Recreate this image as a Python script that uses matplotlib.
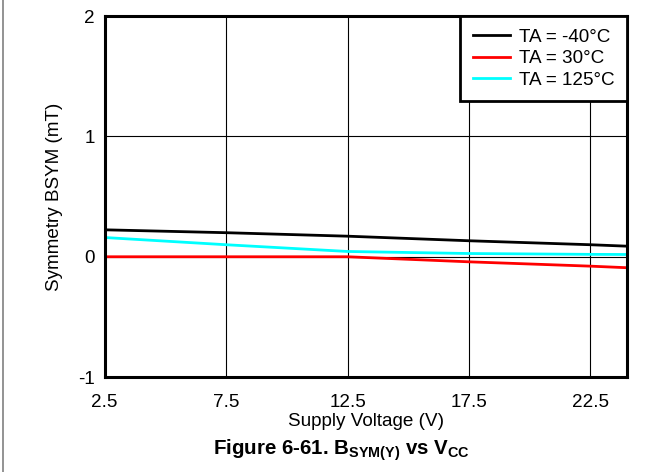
import matplotlib
matplotlib.use("Agg")
import matplotlib.pyplot as plt
from matplotlib.lines import Line2D

plt.rcParams['font.family'] = ['Liberation Sans', 'DejaVu Sans']
plt.rcParams['mathtext.fontset'] = 'custom'
plt.rcParams['mathtext.rm'] = 'Liberation Sans'
plt.rcParams['mathtext.bf'] = 'Liberation Sans:bold'
plt.rcParams['mathtext.it'] = 'Liberation Sans:italic'

voltage = [2.5, 7.5, 12.5, 17.5, 22.5, 24.0]
bsym_m40 = [0.224, 0.200, 0.171, 0.133, 0.100, 0.088]
bsym_30 = [0.000, 0.000, 0.000, -0.042, -0.078, -0.091]
bsym_125 = [0.160, 0.100, 0.044, 0.027, 0.020, 0.019]
labels = ["TA = -40°C", "TA = 30°C", "TA = 125°C"]
colors = ["#000000", "#ff0000", "#00ffff"]
xticks = [2.5, 7.5, 12.5, 17.5, 22.5]
yticks = [-1, 0, 1, 2]

FS = 13.6

fig = plt.figure(figsize=(6.62, 4.72), dpi=100)
ax = fig.add_axes([0.158, 0.201, 0.789, 0.765])

for ys, lab, c in zip([bsym_m40, bsym_30, bsym_125], labels, colors):
    ax.plot(voltage, ys, color=c, lw=2.0, label=lab, zorder=3)

ax.set_xlim(2.5, 24)
ax.set_ylim(-1, 2)
ax.set_xticks(xticks)
ax.set_xticklabels([str(v) for v in xticks])
ax.set_yticks(yticks)
ax.set_yticklabels([str(v) for v in yticks])
ax.tick_params(length=0, labelsize=FS)
ax.tick_params(axis='x', pad=12)
ax.tick_params(axis='y', pad=7)
ax.grid(True, color='black', lw=0.8, zorder=1)
for s in ax.spines.values():
    s.set_linewidth(2.2)
    s.set_zorder(5)

fig.text(366 / 662, 1 - 425.7 / 472, "Supply Voltage (V)", fontsize=FS,
         ha='center', va='baseline')
fig.text(55 / 662, 1 - 196.5 / 472, "Symmetry BSYM (mT)", fontsize=FS,
         ha='center', va='center', rotation=90)

leg = ax.legend(loc='upper right', fontsize=FS, fancybox=False, framealpha=1,
                edgecolor='black', borderaxespad=0, handlelength=1.95,
                handletextpad=0.5, labelspacing=0.23, borderpad=0.65)
leg.get_frame().set_linewidth(2.0)
leg.set_zorder(6)

fig.text(341 / 662, 1 - 454.3 / 472,
         r"Figure 6-61. $\mathbf{B_{SYM(Y)}}$ vs $\mathbf{V_{CC}}$",
         fontsize=14.8, fontweight='bold', ha='center', va='baseline')

fig.add_artist(Line2D([0.005, 0.005], [0, 1], color='#808080', lw=1.2,
                      transform=fig.transFigure))

fig.savefig("out.png", dpi=100)
